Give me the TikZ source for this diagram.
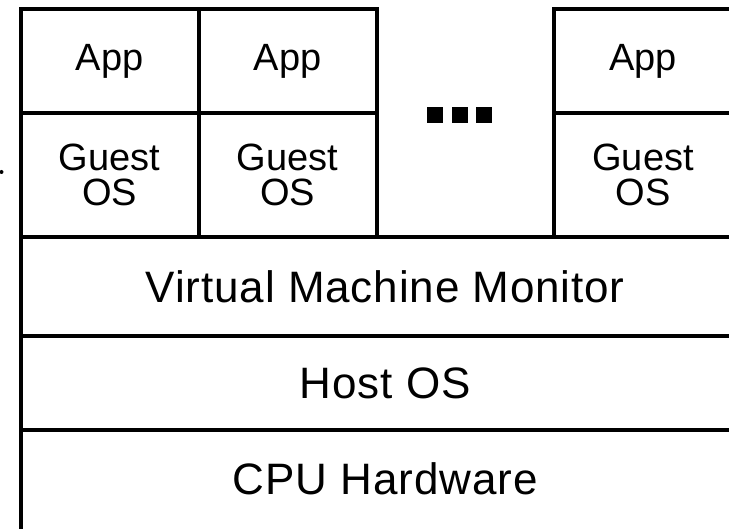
\documentclass[tikz,border=0pt]{standalone}
\usepackage{fontspec}
\setmainfont{Liberation Sans}

\begin{document}
\begin{tikzpicture}[
  x=1pt, y=-1pt,
  box/.style={draw, line width=4pt, inner sep=0pt, align=center},
  slot/.style={box, minimum width=178pt, font=\fontsize{38}{35}\selectfont},
  layer/.style={box, minimum width=729.5pt, font=\fontsize{44}{44}\selectfont\addfontfeatures{LetterSpace=2}},
  dot/.style={fill, minimum size=16pt, inner sep=0pt}
]
\useasboundingbox (0,0) rectangle (729,529);
\clip (0,0) rectangle (729,529);

\node[slot, minimum height=104pt] (app1) at (109.5,61) {App};
\node[slot, minimum height=104pt] (app2) at (287.5,61) {App};
\node[slot, minimum height=104pt] (app3) at (643,61) {App};

\node[slot, minimum height=124pt] (guest1) at (109.5,175) {Guest\\OS};
\node[slot, minimum height=124pt] (guest2) at (287.5,175) {Guest\\OS};
\node[slot, minimum height=124pt] (guest3) at (643,175) {Guest\\OS};

\foreach \i/\x in {1/435,2/460,3/484}
  \node[dot] (dot\i) at (\x,115) {};

\node[layer, minimum height=99pt] (vmm) at (385.25,286.5) {Virtual Machine Monitor};
\node[layer, minimum height=94pt] (host) at (385.25,383) {Host OS};
\node[layer, minimum height=110pt, text depth=12pt] (cpu) at (385.25,485) {CPU Hardware};

\fill (1.5,172) circle (2pt);
\end{tikzpicture}
\end{document}
